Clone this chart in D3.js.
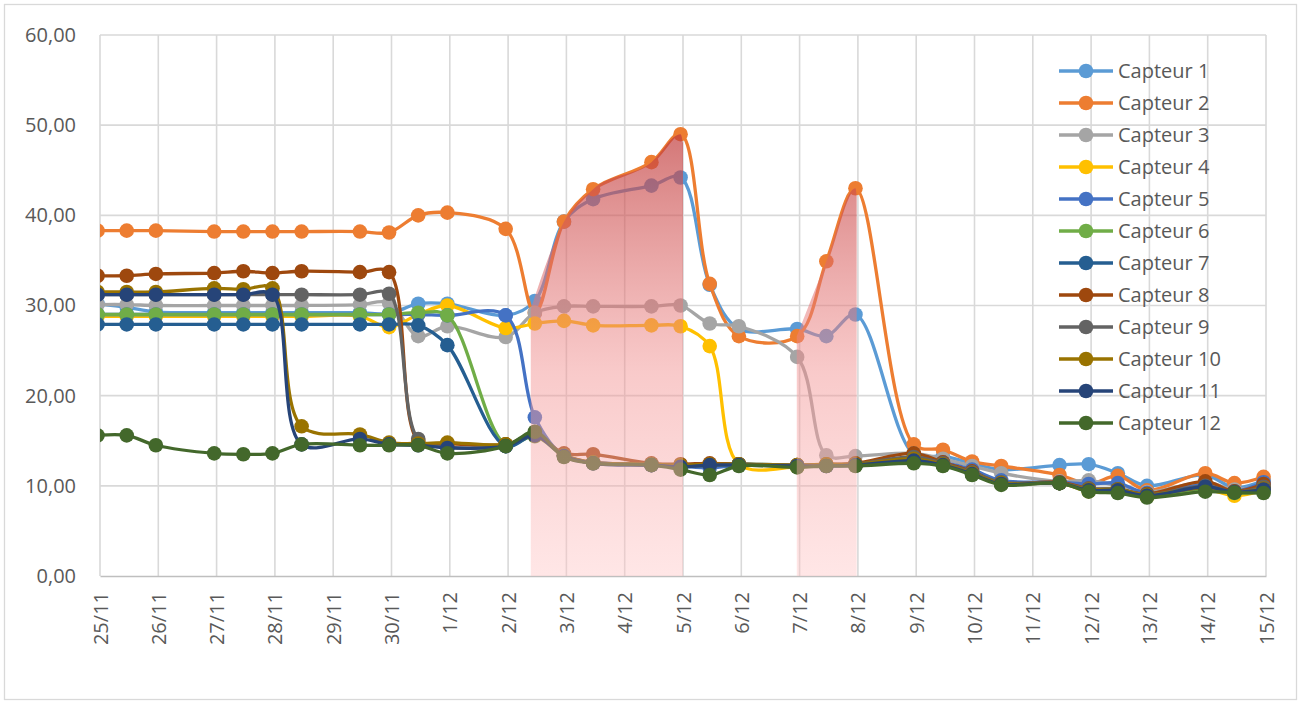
<!DOCTYPE html>
<html>
<head>
<meta charset="utf-8">
<script src="https://cdn.jsdelivr.net/npm/d3@7"></script>
<style>
  body { margin: 0; background: #fff; }
  text { font-family: "Open Sans", sans-serif; fill: #595959; }
</style>
</head>
<body>
<script>
// measurement times (roughly 11h and 23h)
var times = ["2019-11-24 23:00", "2019-11-25 11:00", "2019-11-25 23:00", "2019-11-26 23:00",
  "2019-11-27 11:00", "2019-11-27 23:00", "2019-11-28 11:00", "2019-11-29 11:00",
  "2019-11-29 23:00", "2019-11-30 11:00", "2019-11-30 23:00", "2019-12-01 23:00",
  "2019-12-02 11:00", "2019-12-02 23:00", "2019-12-03 11:00", "2019-12-04 11:00",
  "2019-12-04 23:00", "2019-12-05 11:00", "2019-12-05 23:00", "2019-12-06 23:00",
  "2019-12-07 11:00", "2019-12-07 23:00", "2019-12-08 23:00", "2019-12-09 11:00",
  "2019-12-09 23:00", "2019-12-10 11:00", "2019-12-11 11:00", "2019-12-11 23:00",
  "2019-12-12 11:00", "2019-12-12 23:00", "2019-12-13 23:00", "2019-12-14 11:00",
  "2019-12-14 23:00"];

var capteur1 = [30.2, 29.8, 29.3, 29.2, 29.2, 29.2, 29.2, 29.2, 29.1, 30.2, 30.2, 28.9, 30.5, 39.3, 41.8, 43.3, 44.2,
  32.3, 27.4, 27.4, 26.6, 29.0, 13.5, 13.3, 12.5, 11.8, 12.3, 12.4, 11.4, 10.0, 11.2, 9.8, 10.6];
var capteur2 = [38.3, 38.3, 38.3, 38.2, 38.2, 38.2, 38.2, 38.2, 38.1, 40.0, 40.3, 38.5, 29.2, 39.3, 42.9, 45.9, 49.0,
  32.4, 26.6, 26.6, 34.9, 43.0, 14.6, 14.0, 12.7, 12.2, 11.2, 10.2, 11.1, 9.5, 11.4, 10.3, 11.0];
var capteur3 = [30.1, 30.1, 30.0, 30.0, 30.0, 30.0, 30.0, 30.1, 30.3, 26.6, 27.7, 26.5, 29.2, 29.9, 29.9, 29.9, 30.0,
  28.0, 27.7, 24.3, 13.4, 13.3, 13.6, 13.0, 12.2, 11.4, 10.5, 10.6, 10.0, 9.3, 10.4, 9.6, 10.2];
var capteur4 = [28.8, 28.8, 28.8, 28.8, 28.8, 28.8, 28.8, 28.8, 27.6, 29.0, 30.0, 27.5, 28.0, 28.3, 27.8, 27.8, 27.7,
  25.5, 12.4, 12.1, 12.3, 12.3, 13.0, 12.5, 11.4, 10.2, 10.3, 9.4, 9.5, 8.8, 9.6, 8.9, 9.5];
var capteur5 = [29.0, 29.0, 29.0, 29.0, 29.0, 29.0, 29.0, 29.0, 29.0, 29.0, 28.9, 28.9, 17.6, 13.3, 12.6, 12.4, 12.2,
  12.0, 12.3, 12.2, 12.2, 12.3, 13.0, 12.6, 11.8, 10.6, 10.4, 10.2, 10.3, 9.2, 10.1, 9.4, 10.4];
var capteur6 = [29.0, 29.0, 29.0, 29.0, 29.0, 29.0, 29.0, 29.0, 29.0, 29.2, 28.9, 14.6, 15.5, 13.3, 12.5, 12.4, 12.2,
  12.3, 12.4, 12.3, 12.3, 12.4, 12.8, 12.4, 11.4, 10.3, 10.3, 9.5, 9.5, 8.9, 9.6, 9.2, 9.4];
var capteur7 = [27.9, 27.9, 27.9, 27.9, 27.9, 27.9, 27.9, 27.9, 27.9, 27.8, 25.6, 14.4, 15.6, 13.4, 12.5, 12.3, 12.1,
  12.3, 12.4, 12.2, 12.3, 12.3, 12.7, 12.4, 11.3, 10.3, 10.3, 9.6, 9.6, 9.0, 9.8, 9.3, 9.8];
var capteur8 = [33.3, 33.3, 33.5, 33.6, 33.8, 33.6, 33.8, 33.7, 33.7, 15.0, 14.7, 14.6, 15.6, 13.6, 13.5, 12.5, 12.4,
  12.5, 12.4, 12.3, 12.4, 12.5, 13.6, 12.6, 11.6, 10.3, 10.4, 9.7, 9.6, 9.1, 10.5, 9.4, 10.2];
var capteur9 = [31.2, 31.2, 31.2, 31.2, 31.2, 31.2, 31.2, 31.2, 31.3, 15.2, 14.3, 14.5, 15.8, 13.4, 12.6, 12.4, 12.2,
  12.3, 12.4, 12.3, 12.3, 12.4, 13.2, 12.5, 11.5, 10.4, 10.3, 9.7, 9.6, 9.0, 10.0, 9.3, 9.9];
var capteur10 = [31.5, 31.5, 31.5, 31.9, 31.8, 31.9, 16.6, 15.7, 14.8, 14.7, 14.8, 14.6, 15.6, 13.4, 12.6, 12.4, 12.3,
  12.4, 12.4, 12.3, 12.4, 12.4, 13.0, 12.4, 11.4, 10.3, 10.3, 9.6, 9.6, 9.0, 9.8, 9.3, 9.7];
var capteur11 = [31.2, 31.2, 31.2, 31.2, 31.2, 31.2, 14.6, 15.2, 14.6, 14.5, 14.2, 14.4, 15.6, 13.3, 12.5, 12.3, 12.1,
  12.3, 12.3, 12.2, 12.2, 12.3, 12.8, 12.3, 11.3, 10.2, 10.3, 9.5, 9.5, 8.9, 9.9, 9.3, 9.6];
var capteur12 = [15.6, 15.6, 14.5, 13.6, 13.5, 13.6, 14.6, 14.5, 14.5, 14.5, 13.6, 14.4, 16.0, 13.2, 12.5, 12.3, 11.8,
  11.2, 12.2, 12.05, 12.2, 12.2, 12.5, 12.2, 11.2, 10.1, 10.3, 9.35, 9.2, 8.7, 9.35, 9.25, 9.2];

var names = ["Capteur 1", "Capteur 2", "Capteur 3", "Capteur 4", "Capteur 5", "Capteur 6",
  "Capteur 7", "Capteur 8", "Capteur 9", "Capteur 10", "Capteur 11", "Capteur 12"];
var colors = ["#5B9BD5", "#ED7D31", "#A5A5A5", "#FFC000", "#4472C4", "#70AD47",
  "#255E91", "#9E480E", "#636363", "#997300", "#264478", "#43682B"];
var allValues = [capteur1, capteur2, capteur3, capteur4, capteur5, capteur6,
  capteur7, capteur8, capteur9, capteur10, capteur11, capteur12];

// red highlighted zones (top follows Capteur 2)
var zone1Times = ["2019-12-02 09:20", "2019-12-02 23:00", "2019-12-03 11:00", "2019-12-04 11:00", "2019-12-04 23:00", "2019-12-05 00:00"];
var zone1Values = [29.6, 39.3, 42.9, 45.9, 49.0, 48.0];
var zone2Times = ["2019-12-06 22:50", "2019-12-07 11:00", "2019-12-07 23:00", "2019-12-07 23:30"];
var zone2Values = [26.6, 34.9, 43.0, 42.2];

var yTicks = [0, 10, 20, 30, 40, 50, 60];
var xStart = "2019-11-25 00:00", xEnd = "2019-12-15 00:00";

// Settings
var w = 1299, h = 702;
var pLeft = 100, pRight = 1266, pTop = 35, pBottom = 576;

var parse = d3.timeParse("%Y-%m-%d %H:%M");
var fr = d3.formatLocale({decimal: ",", thousands: " ", grouping: [3], currency: ["", " €"]});
var yFormat = fr.format(".2f");
var xFormat = d3.timeFormat("%-d/%-m");

var dates = times.map(parse);
var series = names.map(function(n, i) {
  return {name: n, color: colors[i], points: dates.map(function(d, j) { return {date: d, value: allValues[i][j]}; })};
});

var xScale = d3.scaleTime().domain([parse(xStart), parse(xEnd)]).range([pLeft, pRight]);
var yScale = d3.scaleLinear().domain([0, 60]).range([pBottom, pTop]);

var svg = d3.select("body").append("svg").attr("width", w).attr("height", h);

// outer frame
svg.append("rect").attr("x", 4.5).attr("y", 4.5).attr("width", 1292).attr("height", 695)
  .attr("fill", "none").attr("stroke", "#d9d9d9").attr("stroke-width", 1.3);

var defs = svg.append("defs");
defs.append("clipPath").attr("id", "plotclip").append("rect")
  .attr("x", pLeft).attr("y", 0).attr("width", w - pLeft).attr("height", h);
var grad = defs.append("linearGradient").attr("id", "zonegrad")
  .attr("gradientUnits", "userSpaceOnUse")
  .attr("x1", 0).attr("x2", 0).attr("y1", yScale(50)).attr("y2", yScale(0));
grad.append("stop").attr("offset", 0).attr("stop-color", "rgb(190,55,55)").attr("stop-opacity", 0.7);
grad.append("stop").attr("offset", 0.55).attr("stop-color", "rgb(242,145,145)").attr("stop-opacity", 0.48);
grad.append("stop").attr("offset", 1).attr("stop-color", "rgb(255,196,196)").attr("stop-opacity", 0.42);

// grid
var days = d3.timeDay.range(parse(xStart), d3.timeDay.offset(parse(xEnd), 1));
svg.append("g").selectAll("line").data(days).enter().append("line")
  .attr("x1", function(d) { return xScale(d); }).attr("x2", function(d) { return xScale(d); })
  .attr("y1", pTop).attr("y2", pBottom)
  .attr("stroke", "#d9d9d9").attr("stroke-width", 1.6);
svg.append("g").selectAll("line").data(yTicks.slice(1)).enter().append("line")
  .attr("x1", pLeft).attr("x2", pRight)
  .attr("y1", function(d) { return yScale(d); }).attr("y2", function(d) { return yScale(d); })
  .attr("stroke", "#d9d9d9").attr("stroke-width", 1.6);

// x axis
var xAxis = d3.axisBottom(xScale).tickValues(days).tickFormat(xFormat).tickSize(0).tickPadding(0);
var gx = svg.append("g").attr("transform", "translate(0," + pBottom + ")").call(xAxis);
gx.select(".domain").attr("stroke", "#bfbfbf").attr("stroke-width", 1.6);
gx.selectAll("text")
  .attr("transform", "translate(0,16) rotate(-90)")
  .attr("text-anchor", "end").attr("dy", "0.35em").attr("y", 0)
  .style("font-size", "20px").attr("fill", "#595959");

// y axis
var yAxis = d3.axisLeft(yScale).tickValues(yTicks).tickFormat(yFormat).tickSize(0).tickPadding(24);
var gy = svg.append("g").attr("transform", "translate(" + pLeft + ",0)").call(yAxis);
gy.select(".domain").remove();
gy.selectAll("text").style("font-size", "20px").attr("fill", "#595959");

// lines
var line = d3.line()
  .x(function(d) { return xScale(d.date); })
  .y(function(d) { return yScale(d.value); })
  .curve(d3.curveCatmullRom);

var plot = svg.append("g").attr("clip-path", "url(#plotclip)");
series.forEach(function(s) {
  var g = plot.append("g");
  g.append("path").datum(s.points).attr("d", line)
    .attr("fill", "none").attr("stroke", s.color).attr("stroke-width", 3.3);
  g.selectAll("circle").data(s.points).enter().append("circle")
    .attr("cx", function(d) { return xScale(d.date); })
    .attr("cy", function(d) { return yScale(d.value); })
    .attr("r", 7.3).attr("fill", s.color);
});

// red zones on top
var zoneArea = d3.area()
  .x(function(d) { return xScale(d.date); })
  .y0(yScale(0))
  .y1(function(d) { return yScale(d.value); })
  .curve(d3.curveMonotoneX);
[[zone1Times, zone1Values], [zone2Times, zone2Values]].forEach(function(z) {
  var pts = z[0].map(function(t, i) { return {date: parse(t), value: z[1][i]}; });
  svg.append("path").datum(pts).attr("d", zoneArea).attr("fill", "url(#zonegrad)");
});

// legend
var legend = svg.append("g").attr("transform", "translate(1059,71)");
var items = legend.selectAll("g").data(series).enter().append("g")
  .attr("transform", function(d, i) { return "translate(0," + (i * 32) + ")"; });
items.append("line").attr("x1", 0).attr("x2", 54).attr("y1", 0).attr("y2", 0)
  .attr("stroke", function(d) { return d.color; }).attr("stroke-width", 3.3);
items.append("circle").attr("cx", 27).attr("cy", 0).attr("r", 7.3)
  .attr("fill", function(d) { return d.color; });
items.append("text").attr("x", 59).attr("y", 0).attr("dy", "0.35em")
  .style("font-size", "20px")
  .text(function(d) { return d.name; });
</script>
</body>
</html>
